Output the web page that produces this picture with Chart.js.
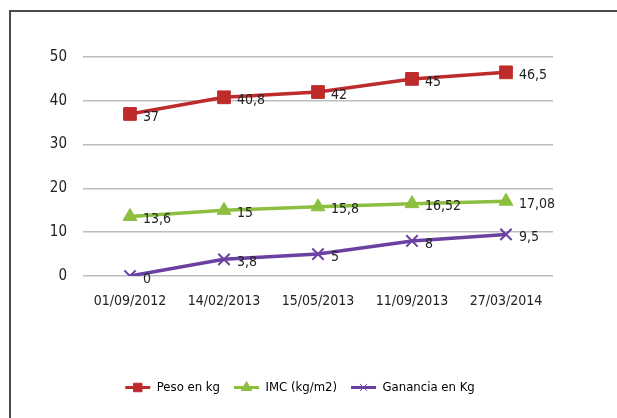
<!DOCTYPE html>
<html>
<head>
<meta charset="utf-8">
<script src="https://cdn.jsdelivr.net/npm/chart.js@4/dist/chart.umd.min.js"></script>
<style>
  html, body { margin: 0; padding: 0; background: #fff; }
  #wrap { width: 617px; height: 418px; position: relative; }
</style>
</head>
<body>
<div id="wrap"><canvas id="grafico" width="617" height="418"></canvas></div>
<script>
// datos
const fechas = ['01/09/2012', '14/02/2013', '15/05/2013', '11/09/2013', '27/03/2014'];
const peso = [37, 40.8, 42, 45, 46.5];
const imc = [13.6, 15, 15.8, 16.52, 17.08];
const ganancia = [0, 3.8, 5, 8, 9.5];
const yTicks = [0, 10, 20, 30, 40, 50];

const FONT = "'DejaVu Sans Condensed', sans-serif";

const ROJO = '#BE2B2B';
const VERDE = '#8CBF3F';
const MORADO = '#6A40A0';

// marco de la imagen (borde superior e izquierdo)
const marco = {
    id: 'marco',
    beforeDraw(chart) {
        const ctx = chart.ctx;
        ctx.save();
        ctx.strokeStyle = '#4a4a4a';
        ctx.lineWidth = 2;
        ctx.beginPath();
        ctx.moveTo(617, 11);
        ctx.lineTo(10, 11);
        ctx.lineTo(10, 418);
        ctx.stroke();
        ctx.restore();
    }
};

// etiquetas de valor a la derecha de cada punto
const etiquetas = {
    id: 'etiquetas',
    afterDatasetsDraw(chart) {
        const ctx = chart.ctx;
        ctx.save();
        ctx.font = '14px ' + FONT;
        ctx.fillStyle = '#222';
        ctx.textAlign = 'left';
        ctx.textBaseline = 'middle';
        chart.data.datasets.forEach((ds, i) => {
            chart.getDatasetMeta(i).data.forEach((pt, j) => {
                const txt = String(ds.data[j]).replace('.', ',');
                ctx.fillText(txt, pt.x + 13, pt.y + 3);
            });
        });
        ctx.restore();
    }
};

// marcador sobre la linea de la leyenda
const marcadorLeyenda = {
    id: 'marcadorLeyenda',
    afterDraw(chart) {
        const legend = chart.legend;
        if (!legend || !legend.legendHitBoxes) return;
        const ctx = chart.ctx;
        const bw = legend.options.labels.boxWidth;
        legend.legendHitBoxes.forEach((hb, i) => {
            const ds = chart.data.datasets[i];
            const cx = hb.left + bw / 2;
            const cy = hb.top + hb.height / 2;
            ctx.save();
            ctx.fillStyle = ds.borderColor;
            ctx.strokeStyle = ds.borderColor;
            ctx.lineWidth = 1;
            Chart.helpers.drawPoint(ctx, {
                pointStyle: ds.pointStyle,
                radius: ds.pointStyle === 'crossRot' ? 5 : 6,
                borderWidth: 1,
                rotation: 0
            }, cx, cy);
            ctx.restore();
        });
    }
};

new Chart(document.getElementById('grafico'), {
    type: 'line',
    data: {
        labels: fechas,
        datasets: [
            {
                label: 'Peso en kg',
                data: peso,
                borderColor: ROJO,
                backgroundColor: ROJO,
                borderWidth: 3.5,
                pointStyle: 'rect',
                pointRadius: 9,
                pointBorderWidth: 1
            },
            {
                label: 'IMC (kg/m2)',
                data: imc,
                borderColor: VERDE,
                backgroundColor: VERDE,
                borderWidth: 3.5,
                pointStyle: 'triangle',
                pointRadius: 8,
                pointBorderWidth: 1
            },
            {
                label: 'Ganancia en Kg',
                data: ganancia,
                borderColor: MORADO,
                backgroundColor: MORADO,
                borderWidth: 3.5,
                pointStyle: 'crossRot',
                pointRadius: 8,
                pointBorderWidth: 2
            }
        ]
    },
    options: {
        responsive: false,
        animation: false,
        layout: { padding: { top: 57, right: 64, bottom: 14, left: 47 } },
        plugins: {
            title: { display: false },
            tooltip: { enabled: false },
            legend: {
                position: 'bottom',
                labels: {
                    boxWidth: 25,
                    boxHeight: 3,
                    padding: 14,
                    color: '#222',
                    font: { family: FONT, size: 13 },
                    generateLabels(chart) {
                        return chart.data.datasets.map((ds, i) => ({
                            text: ds.label,
                            fillStyle: ds.borderColor,
                            strokeStyle: ds.borderColor,
                            lineWidth: 0,
                            hidden: false,
                            datasetIndex: i
                        }));
                    }
                }
            }
        },
        scales: {
            x: {
                offset: true,
                grid: { display: false, drawTicks: false },
                border: { display: false },
                ticks: {
                    padding: 17,
                    color: '#222',
                    maxRotation: 0,
                    font: { family: FONT, size: 14 }
                },
                afterFit(axis) { axis.height = 91; }
            },
            y: {
                min: 0,
                max: 50,
                afterBuildTicks(axis) { axis.ticks = yTicks.map(v => ({ value: v })); },
                grid: { color: '#BDBDBD', lineWidth: 1.5, drawTicks: false },
                border: { display: false },
                ticks: {
                    padding: 16,
                    color: '#222',
                    font: { family: FONT, size: 15 }
                },
                afterFit(axis) { axis.width = 36; }
            }
        }
    },
    plugins: [marco, etiquetas, marcadorLeyenda]
});
</script>
</body>
</html>
